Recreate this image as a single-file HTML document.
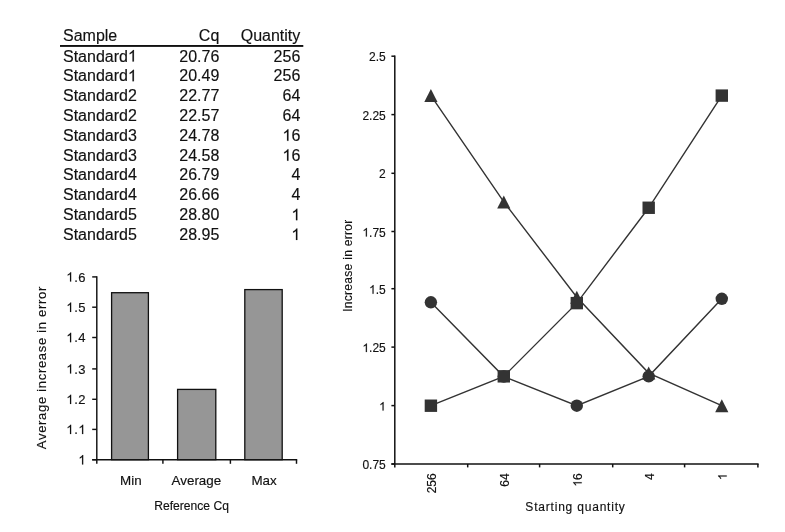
<!DOCTYPE html>
<html><head><meta charset="utf-8"><style>
html,body{margin:0;padding:0;background:#fff;}
body{width:785px;height:532px;overflow:hidden;}
svg{display:block;will-change:transform;}
.one{fill-opacity:0;stroke-opacity:0;}
text{stroke:#111;stroke-width:0.15px;}
.p1{stroke:#111;stroke-width:0.15px;vector-effect:non-scaling-stroke;}
</style></head><body>
<svg width="785" height="532" viewBox="0 0 785 532">
<rect width="785" height="532" fill="#fff"/>
<g font-family="Liberation Sans, sans-serif" font-size="16" fill="#111">
<text x="63.0" y="41.2">Sample</text><text x="219.3" y="41.2" text-anchor="end">Cq</text><text x="300.3" y="41.2" text-anchor="end">Quantity</text>
<text x="63.0" y="61.50">Standard<tspan class="one">1</tspan></text><text x="219.3" y="61.50" text-anchor="end">20.76</text><text x="300.3" y="61.50" text-anchor="end">256</text>
<text x="63.0" y="81.33">Standard<tspan class="one">1</tspan></text><text x="219.3" y="81.33" text-anchor="end">20.49</text><text x="300.3" y="81.33" text-anchor="end">256</text>
<text x="63.0" y="101.16">Standard2</text><text x="219.3" y="101.16" text-anchor="end">22.77</text><text x="300.3" y="101.16" text-anchor="end">64</text>
<text x="63.0" y="120.99">Standard2</text><text x="219.3" y="120.99" text-anchor="end">22.57</text><text x="300.3" y="120.99" text-anchor="end">64</text>
<text x="63.0" y="140.82">Standard3</text><text x="219.3" y="140.82" text-anchor="end">24.78</text><text x="300.3" y="140.82" text-anchor="end"><tspan class="one">1</tspan>6</text>
<text x="63.0" y="160.65">Standard3</text><text x="219.3" y="160.65" text-anchor="end">24.58</text><text x="300.3" y="160.65" text-anchor="end"><tspan class="one">1</tspan>6</text>
<text x="63.0" y="180.48">Standard4</text><text x="219.3" y="180.48" text-anchor="end">26.79</text><text x="300.3" y="180.48" text-anchor="end">4</text>
<text x="63.0" y="200.31">Standard4</text><text x="219.3" y="200.31" text-anchor="end">26.66</text><text x="300.3" y="200.31" text-anchor="end">4</text>
<text x="63.0" y="220.14">Standard5</text><text x="219.3" y="220.14" text-anchor="end">28.80</text><text x="300.3" y="220.14" text-anchor="end"><tspan class="one">1</tspan></text>
<text x="63.0" y="239.97">Standard5</text><text x="219.3" y="239.97" text-anchor="end">28.95</text><text x="300.3" y="239.97" text-anchor="end"><tspan class="one">1</tspan></text>
</g>
<rect x="60" y="45" width="243.3" height="1.9" fill="#111"/>
<g stroke="#111" stroke-width="1.45" fill="none">
<line x1="96.8" y1="276.2" x2="96.8" y2="463.8"/>
<line x1="92.2" y1="459.70" x2="96.8" y2="459.70"/>
<line x1="92.2" y1="429.40" x2="96.8" y2="429.40"/>
<line x1="92.2" y1="399.30" x2="96.8" y2="399.30"/>
<line x1="92.2" y1="368.90" x2="96.8" y2="368.90"/>
<line x1="92.2" y1="337.50" x2="96.8" y2="337.50"/>
<line x1="92.2" y1="307.20" x2="96.8" y2="307.20"/>
<line x1="92.2" y1="276.90" x2="96.8" y2="276.90"/>
<line x1="92.2" y1="459.7" x2="297.2" y2="459.7"/>
<line x1="162.9" y1="459.7" x2="162.9" y2="463.8"/>
<line x1="230.4" y1="459.7" x2="230.4" y2="463.8"/>
<line x1="296.5" y1="459.7" x2="296.5" y2="463.8"/>
</g>
<rect x="111.6" y="292.7" width="36.80" height="167.00" fill="#969696" stroke="#111" stroke-width="1.3"/>
<rect x="177.6" y="389.4" width="38.20" height="70.30" fill="#969696" stroke="#111" stroke-width="1.3"/>
<rect x="244.8" y="289.6" width="37.40" height="170.10" fill="#969696" stroke="#111" stroke-width="1.3"/>
<g font-family="Liberation Sans, sans-serif" font-size="13" fill="#111" text-anchor="end">
<text x="86.2" y="464.40" letter-spacing="0.6"><tspan class="one">1</tspan></text>
<text x="86.2" y="434.10" letter-spacing="0.6"><tspan class="one">1</tspan>.<tspan class="one">1</tspan></text>
<text x="86.2" y="404.00" letter-spacing="0.6"><tspan class="one">1</tspan>.2</text>
<text x="86.2" y="373.60" letter-spacing="0.6"><tspan class="one">1</tspan>.3</text>
<text x="86.2" y="342.20" letter-spacing="0.6"><tspan class="one">1</tspan>.4</text>
<text x="86.2" y="311.90" letter-spacing="0.6"><tspan class="one">1</tspan>.5</text>
<text x="86.2" y="281.60" letter-spacing="0.6"><tspan class="one">1</tspan>.6</text>
</g>
<g font-family="Liberation Sans, sans-serif" font-size="13.4" fill="#111" text-anchor="middle">
<text x="130.8" y="485.4">Min</text>
<text x="196.4" y="485.4">Average</text>
<text x="264.1" y="485.4">Max</text>
</g>
<text font-family="Liberation Sans, sans-serif" font-size="12.1" fill="#111" text-anchor="middle" x="191.6" y="510.2">Reference Cq</text>
<text font-family="Liberation Sans, sans-serif" font-size="13" fill="#111" text-anchor="middle" letter-spacing="0.7" transform="translate(46.2,367.6) rotate(-90)">Average increase in error</text>
<g stroke="#111" stroke-width="1.5" fill="none">
<line x1="394.8" y1="55.5" x2="394.8" y2="467.4"/>
<line x1="391.4" y1="464.00" x2="394.8" y2="464.00"/>
<line x1="391.4" y1="405.60" x2="394.8" y2="405.60"/>
<line x1="391.4" y1="347.10" x2="394.8" y2="347.10"/>
<line x1="391.4" y1="288.70" x2="394.8" y2="288.70"/>
<line x1="391.4" y1="231.50" x2="394.8" y2="231.50"/>
<line x1="391.4" y1="173.30" x2="394.8" y2="173.30"/>
<line x1="391.4" y1="114.60" x2="394.8" y2="114.60"/>
<line x1="391.4" y1="56.20" x2="394.8" y2="56.20"/>
<line x1="391.4" y1="464.0" x2="758.6" y2="464.0"/>
<line x1="467.70" y1="464.0" x2="467.70" y2="467.4"/>
<line x1="539.60" y1="464.0" x2="539.60" y2="467.4"/>
<line x1="612.70" y1="464.0" x2="612.70" y2="467.4"/>
<line x1="684.60" y1="464.0" x2="684.60" y2="467.4"/>
<line x1="757.90" y1="464.0" x2="757.90" y2="467.4"/>
</g>
<g font-family="Liberation Sans, sans-serif" font-size="12" fill="#111" text-anchor="end">
<text x="385.8" y="469.00">0.75</text>
<text x="385.8" y="410.60"><tspan class="one">1</tspan></text>
<text x="385.8" y="352.10"><tspan class="one">1</tspan>.25</text>
<text x="385.8" y="293.70"><tspan class="one">1</tspan>.5</text>
<text x="385.8" y="236.50"><tspan class="one">1</tspan>.75</text>
<text x="385.8" y="178.30">2</text>
<text x="385.8" y="119.60">2.25</text>
<text x="385.8" y="61.20">2.5</text>
</g>
<g font-family="Liberation Sans, sans-serif" font-size="12" fill="#111" text-anchor="end">
<text transform="translate(435.80,473.3) rotate(-90)">256</text>
<text transform="translate(508.70,473.3) rotate(-90)">64</text>
<text transform="translate(581.70,473.3) rotate(-90)"><tspan class="one">1</tspan>6</text>
<text transform="translate(653.60,473.3) rotate(-90)">4</text>
<text transform="translate(726.70,473.3) rotate(-90)"><tspan class="one">1</tspan></text>
</g>
<text font-family="Liberation Sans, sans-serif" font-size="12" fill="#111" text-anchor="middle" letter-spacing="0.8" x="575.5" y="510.9">Starting quantity</text>
<text font-family="Liberation Sans, sans-serif" font-size="12" fill="#111" text-anchor="middle" letter-spacing="0.3" transform="translate(352.2,265.6) rotate(-90)">Increase in error</text>
<polyline points="430.90,95.61 503.80,201.93 576.80,297.29 648.70,373.07 721.80,405.71" fill="none" stroke="#333" stroke-width="1.4"/>
<polygon points="430.90,89.11 437.50,102.11 424.30,102.11" fill="#333"/>
<polygon points="503.80,195.43 510.40,208.43 497.20,208.43" fill="#333"/>
<polygon points="576.80,290.79 583.40,303.79 570.20,303.79" fill="#333"/>
<polygon points="648.70,366.57 655.30,379.57 642.10,379.57" fill="#333"/>
<polygon points="721.80,399.21 728.40,412.21 715.20,412.21" fill="#333"/>
<polyline points="430.90,302.30 503.80,376.56 576.80,405.71 648.70,376.33 721.80,298.81" fill="none" stroke="#333" stroke-width="1.4"/>
<circle cx="430.90" cy="302.30" r="6.2" fill="#333"/>
<circle cx="503.80" cy="376.56" r="6.2" fill="#333"/>
<circle cx="576.80" cy="405.71" r="6.2" fill="#333"/>
<circle cx="648.70" cy="376.33" r="6.2" fill="#333"/>
<circle cx="721.80" cy="298.81" r="6.2" fill="#333"/>
<polyline points="430.90,405.71 503.80,376.33 576.80,303.12 648.70,207.76 721.80,95.61" fill="none" stroke="#333" stroke-width="1.4"/>
<rect x="424.70" y="399.51" width="12.4" height="12.4" fill="#333"/>
<rect x="497.60" y="370.13" width="12.4" height="12.4" fill="#333"/>
<rect x="570.60" y="296.92" width="12.4" height="12.4" fill="#333"/>
<rect x="642.50" y="201.56" width="12.4" height="12.4" fill="#333"/>
<rect x="715.60" y="89.41" width="12.4" height="12.4" fill="#333"/>
<path class="p1" d="M763,0 L583,0 L583,1147 Q518,1085 412,1023 Q306,961 222,930 L222,1104 Q375,1176 489,1278 Q603,1380 650,1472 L763,1472 Z" fill="#111" transform=" translate(127.938,61.500) scale(0.007812,-0.007812)"/>
<path class="p1" d="M763,0 L583,0 L583,1147 Q518,1085 412,1023 Q306,961 222,930 L222,1104 Q375,1176 489,1278 Q603,1380 650,1472 L763,1472 Z" fill="#111" transform=" translate(127.938,81.330) scale(0.007812,-0.007812)"/>
<path class="p1" d="M763,0 L583,0 L583,1147 Q518,1085 412,1023 Q306,961 222,930 L222,1104 Q375,1176 489,1278 Q603,1380 650,1472 L763,1472 Z" fill="#111" transform=" translate(282.487,140.820) scale(0.007812,-0.007812)"/>
<path class="p1" d="M763,0 L583,0 L583,1147 Q518,1085 412,1023 Q306,961 222,930 L222,1104 Q375,1176 489,1278 Q603,1380 650,1472 L763,1472 Z" fill="#111" transform=" translate(282.487,160.650) scale(0.007812,-0.007812)"/>
<path class="p1" d="M763,0 L583,0 L583,1147 Q518,1085 412,1023 Q306,961 222,930 L222,1104 Q375,1176 489,1278 Q603,1380 650,1472 L763,1472 Z" fill="#111" transform=" translate(291.394,220.140) scale(0.007812,-0.007812)"/>
<path class="p1" d="M763,0 L583,0 L583,1147 Q518,1085 412,1023 Q306,961 222,930 L222,1104 Q375,1176 489,1278 Q603,1380 650,1472 L763,1472 Z" fill="#111" transform=" translate(291.394,239.970) scale(0.007812,-0.007812)"/>
<path class="p1" d="M763,0 L583,0 L583,1147 Q518,1085 412,1023 Q306,961 222,930 L222,1104 Q375,1176 489,1278 Q603,1380 650,1472 L763,1472 Z" fill="#111" transform=" translate(78.356,464.400) scale(0.006348,-0.006348)"/>
<path class="p1" d="M763,0 L583,0 L583,1147 Q518,1085 412,1023 Q306,961 222,930 L222,1104 Q375,1176 489,1278 Q603,1380 650,1472 L763,1472 Z" fill="#111" transform=" translate(66.294,434.100) scale(0.006348,-0.006348)"/>
<path class="p1" d="M763,0 L583,0 L583,1147 Q518,1085 412,1023 Q306,961 222,930 L222,1104 Q375,1176 489,1278 Q603,1380 650,1472 L763,1472 Z" fill="#111" transform=" translate(78.356,434.100) scale(0.006348,-0.006348)"/>
<path class="p1" d="M763,0 L583,0 L583,1147 Q518,1085 412,1023 Q306,961 222,930 L222,1104 Q375,1176 489,1278 Q603,1380 650,1472 L763,1472 Z" fill="#111" transform=" translate(66.309,404.000) scale(0.006348,-0.006348)"/>
<path class="p1" d="M763,0 L583,0 L583,1147 Q518,1085 412,1023 Q306,961 222,930 L222,1104 Q375,1176 489,1278 Q603,1380 650,1472 L763,1472 Z" fill="#111" transform=" translate(66.309,373.600) scale(0.006348,-0.006348)"/>
<path class="p1" d="M763,0 L583,0 L583,1147 Q518,1085 412,1023 Q306,961 222,930 L222,1104 Q375,1176 489,1278 Q603,1380 650,1472 L763,1472 Z" fill="#111" transform=" translate(66.309,342.200) scale(0.006348,-0.006348)"/>
<path class="p1" d="M763,0 L583,0 L583,1147 Q518,1085 412,1023 Q306,961 222,930 L222,1104 Q375,1176 489,1278 Q603,1380 650,1472 L763,1472 Z" fill="#111" transform=" translate(66.309,311.900) scale(0.006348,-0.006348)"/>
<path class="p1" d="M763,0 L583,0 L583,1147 Q518,1085 412,1023 Q306,961 222,930 L222,1104 Q375,1176 489,1278 Q603,1380 650,1472 L763,1472 Z" fill="#111" transform=" translate(66.309,281.600) scale(0.006348,-0.006348)"/>
<path class="p1" d="M763,0 L583,0 L583,1147 Q518,1085 412,1023 Q306,961 222,930 L222,1104 Q375,1176 489,1278 Q603,1380 650,1472 L763,1472 Z" fill="#111" transform=" translate(379.112,410.600) scale(0.005859,-0.005859)"/>
<path class="p1" d="M763,0 L583,0 L583,1147 Q518,1085 412,1023 Q306,961 222,930 L222,1104 Q375,1176 489,1278 Q603,1380 650,1472 L763,1472 Z" fill="#111" transform=" translate(362.425,352.100) scale(0.005859,-0.005859)"/>
<path class="p1" d="M763,0 L583,0 L583,1147 Q518,1085 412,1023 Q306,961 222,930 L222,1104 Q375,1176 489,1278 Q603,1380 650,1472 L763,1472 Z" fill="#111" transform=" translate(369.097,293.700) scale(0.005859,-0.005859)"/>
<path class="p1" d="M763,0 L583,0 L583,1147 Q518,1085 412,1023 Q306,961 222,930 L222,1104 Q375,1176 489,1278 Q603,1380 650,1472 L763,1472 Z" fill="#111" transform=" translate(362.425,236.500) scale(0.005859,-0.005859)"/>
<path class="p1" d="M763,0 L583,0 L583,1147 Q518,1085 412,1023 Q306,961 222,930 L222,1104 Q375,1176 489,1278 Q603,1380 650,1472 L763,1472 Z" fill="#111" transform="translate(581.70,473.3) rotate(-90) translate(-13.375,0.000) scale(0.005859,-0.005859)"/>
<path class="p1" d="M763,0 L583,0 L583,1147 Q518,1085 412,1023 Q306,961 222,930 L222,1104 Q375,1176 489,1278 Q603,1380 650,1472 L763,1472 Z" fill="#111" transform="translate(726.70,473.3) rotate(-90) translate(-6.688,0.000) scale(0.005859,-0.005859)"/>
</svg>
</body></html>
